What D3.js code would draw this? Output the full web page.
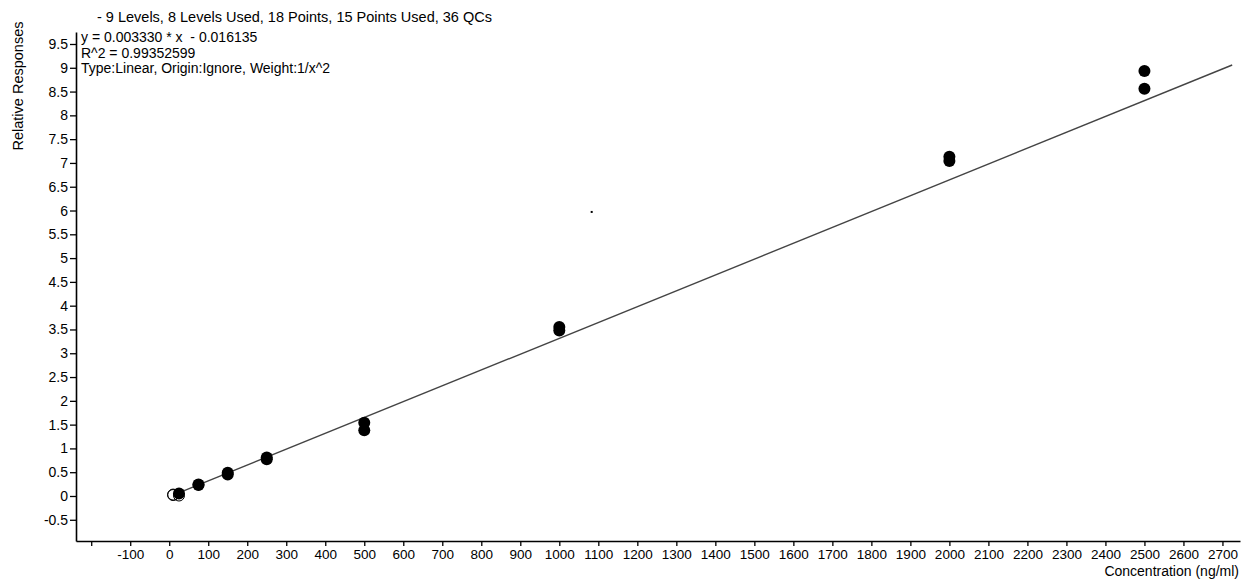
<!DOCTYPE html>
<html>
<head>
<meta charset="utf-8">
<script src="https://cdn.jsdelivr.net/npm/d3@7"></script>
<style>
  html, body { margin: 0; padding: 0; background: #fff; }
  svg { display: block; font-family: "Liberation Sans", Arial, sans-serif; }
  text { fill: #000; white-space: pre; }
</style>
</head>
<body>
<svg id="chart" width="1242" height="579"></svg>
<script>
// ---- data ----
const usedConc = [25, 75, 75, 150, 150, 250, 250, 500, 500, 1000, 1000, 2000, 2000, 2500, 2500];
const usedResp = [0.05, 0.24, 0.23, 0.45, 0.49, 0.77, 0.81, 1.54, 1.38, 3.55, 3.48, 7.13, 7.04, 8.93, 8.56];
const excludedConc = [10, 10, 25];
const excludedResp = [0.02, 0.03, 0.01];
const strayConc = [1083];
const strayResp = [5.97];
const slope = 0.003330;
const intercept = -0.016135;
const fitRange = [10, 2725];
const xTicks = d3.range(-200, 2701, 100);
const yTicks = d3.range(-0.5, 9.51, 0.5);
const titleText = "- 9 Levels, 8 Levels Used, 18 Points, 15 Points Used, 36 QCs";
const infoLines = ["y = 0.003330 * x  - 0.016135", "R^2 = 0.99352599", "Type:Linear, Origin:Ignore, Weight:1/x^2"];
const xLabel = "Concentration (ng/ml)";
const yLabel = "Relative Responses";

// ---- layout ----
const svg = d3.select("#chart");
const x = d3.scaleLinear().domain([-239, 2745]).range([76, 1240]);
const y = d3.scaleLinear().domain([-0.946, 9.752]).range([541, 32]);
const fs = 14;

// axes
const xAxis = d3.axisBottom(x).tickValues(xTicks).tickSize(5).tickSizeOuter(0)
  .tickFormat(d => d === -200 ? "" : String(d));
const gx = svg.append("g").attr("transform", `translate(0,${y.range()[0]})`).call(xAxis);
gx.select(".domain").attr("stroke", "#000").attr("stroke-width", 1.6);
gx.selectAll(".tick line").attr("stroke", "#000").attr("stroke-width", 1.3);
gx.selectAll(".tick text").attr("font-size", 13.5).attr("dy", null).attr("y", 18).attr("font-family", "Liberation Sans, Arial, sans-serif");

const yAxis = d3.axisLeft(y).tickValues(yTicks).tickSize(6).tickSizeOuter(0)
  .tickFormat(d => String(+d.toFixed(1)));
const gy = svg.append("g").attr("transform", `translate(${x.range()[0]},0)`).call(yAxis);
gy.select(".domain").attr("stroke", "#000").attr("stroke-width", 1.6);
gy.selectAll(".tick line").attr("stroke", "#000").attr("stroke-width", 1.3);
gy.selectAll(".tick text").attr("font-size", fs).attr("x", -8).attr("font-family", "Liberation Sans, Arial, sans-serif");

// fit line
svg.append("line")
  .attr("x1", x(fitRange[0])).attr("y1", y(slope * fitRange[0] + intercept))
  .attr("x2", x(fitRange[1])).attr("y2", y(slope * fitRange[1] + intercept))
  .attr("stroke", "#444").attr("stroke-width", 1.4);

// excluded points (open)
svg.append("g").selectAll("circle").data(excludedConc).join("circle")
  .attr("cx", (d, i) => x(d)).attr("cy", (d, i) => y(excludedResp[i]))
  .attr("r", 5.5).attr("fill", "none").attr("stroke", "#000").attr("stroke-width", 1);

// used points (filled)
svg.append("g").selectAll("circle").data(usedConc).join("circle")
  .attr("cx", (d, i) => x(d)).attr("cy", (d, i) => y(usedResp[i]))
  .attr("r", 6).attr("fill", "#000");

// stray mark
svg.append("g").selectAll("rect").data(strayConc).join("rect")
  .attr("x", (d, i) => x(d) - 1).attr("y", (d, i) => y(strayResp[i]) - 1)
  .attr("width", 2).attr("height", 2).attr("fill", "#000");

// texts
svg.append("text").attr("x", 97).attr("y", 22).attr("font-size", 14.5).text(titleText);
svg.append("g").selectAll("text").data(infoLines).join("text")
  .attr("x", 81).attr("y", (d, i) => 42 + i * 15.7).attr("font-size", fs).text(d => d);
svg.append("text").attr("x", 1239).attr("y", 576).attr("text-anchor", "end").attr("font-size", fs).text(xLabel);
svg.append("text").attr("transform", "translate(23,86) rotate(-90)").attr("text-anchor", "middle")
  .attr("font-size", 14.5).text(yLabel);
</script>
</body>
</html>
